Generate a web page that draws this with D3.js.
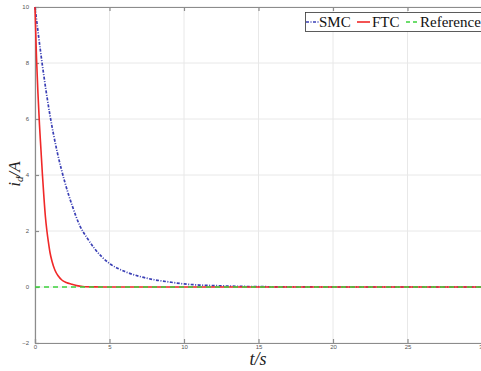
<!DOCTYPE html>
<html>
<head>
<meta charset="utf-8">
<script src="https://cdn.jsdelivr.net/npm/d3@7"></script>
<style>
  body { margin: 0; background: #fff; }
  svg { display: block; }
</style>
</head>
<body>
<svg id="chart"></svg>
<script>
// values
var smcT = [0, 0.5, 1, 1.5, 2, 2.5, 3, 3.5, 4, 4.5, 5, 6, 7, 8, 9, 10, 11, 12, 14, 17, 20, 30];
var smcI = [10, 7.9, 6.15, 4.8, 3.75, 2.9, 2.2, 1.75, 1.37, 1.07, 0.84, 0.56, 0.38, 0.26, 0.18, 0.11, 0.07, 0.05, 0.02, 0.005, 0, 0];
var ftcT = [0, 0.1, 0.2, 0.3, 0.4, 0.5, 0.6, 0.7, 0.8, 0.9, 1.0, 1.15, 1.34, 1.55, 1.8, 2.1, 2.45, 2.8, 3.2, 4, 5, 30];
var ftcI = [10, 8.2, 6.9, 5.8, 4.9, 4.0, 3.2, 2.5, 2.0, 1.6, 1.25, 0.9, 0.6, 0.4, 0.25, 0.16, 0.1, 0.05, 0.02, 0.005, 0, 0];
var refT = [0, 30];
var refI = [0, 0];
var xTicks = [0, 5, 10, 15, 20, 25, 30];
var yTicks = [-2, 0, 2, 4, 6, 8, 10];
var legendNames = ["SMC", "FTC", "Reference"];

var width = 481, height = 371;
var margin = {left: 35, top: 7, right: 0, bottom: 28};

var svg = d3.select("#chart").attr("width", width).attr("height", height);

var x = d3.scaleLinear().domain([0, 30]).range([margin.left, margin.left + 447]);
var y = d3.scaleLinear().domain([-2, 10]).range([343, margin.top]);

var axisColor = "#8c8c8c";

// grid
svg.append("g").selectAll("line")
  .data(xTicks)
  .enter().append("line")
  .attr("x1", function(d) { return x(d); })
  .attr("x2", function(d) { return x(d); })
  .attr("y1", y(10)).attr("y2", y(-2))
  .attr("stroke", "#e8e8e8");
svg.append("g").selectAll("line")
  .data(yTicks)
  .enter().append("line")
  .attr("x1", x(0)).attr("x2", x(30))
  .attr("y1", function(d) { return y(d); })
  .attr("y2", function(d) { return y(d); })
  .attr("stroke", "#e8e8e8");

// axes
var xAxis = d3.axisBottom(x).tickValues(xTicks).tickSize(-4).tickPadding(2);
var yAxis = d3.axisLeft(y).tickValues(yTicks).tickSize(-4).tickPadding(6);

var gx = svg.append("g").attr("transform", "translate(0," + y(-2) + ")").call(xAxis);
var gy = svg.append("g").attr("transform", "translate(" + x(0) + ",0)").call(yAxis);
var gTop = svg.append("g").attr("transform", "translate(0," + y(10) + ")")
  .call(d3.axisTop(x).tickValues(xTicks).tickSize(-4).tickFormat(""));

[gx, gy, gTop].forEach(function(g) {
  g.selectAll("path, line").attr("stroke", axisColor).attr("stroke-width", 1.2);
  g.selectAll("text").attr("fill", "#555").style("font-size", "6px")
    .style("font-family", "Liberation Sans, Arial, sans-serif");
});

// lines
var line = d3.line()
  .x(function(d) { return x(d[0]); })
  .y(function(d) { return y(d[1]); })
  .curve(d3.curveMonotoneX);

var smc = d3.zip(smcT, smcI);
var ftc = d3.zip(ftcT, ftcI);
var ref = d3.zip(refT, refI);

svg.append("path").datum(smc).attr("d", line)
  .attr("fill", "none").attr("stroke", "#3a3fb5").attr("stroke-width", 1.7)
  .attr("stroke-dasharray", "3,1.5,1,1.5");
svg.append("path").datum(ftc).attr("d", line)
  .attr("fill", "none").attr("stroke", "#f02828").attr("stroke-width", 1.6);
svg.append("path").datum(ref).attr("d", line)
  .attr("fill", "none").attr("stroke", "#3cd23c").attr("stroke-width", 1.6)
  .attr("stroke-dasharray", "5,4");

// legend
var lg = svg.append("g");
lg.append("rect").attr("x", 305.5).attr("y", 12.5).attr("width", 180).attr("height", 19)
  .attr("fill", "#fff").attr("stroke", "#333").attr("stroke-width", 0.8);

var legendColors = ["#3a3fb5", "#f02828", "#3cd23c"];
var legendDash = ["3,1.5,1,1.5", null, "4,3"];
var legendX = [306, 357, 406];
var textX = [319, 372, 420];
legendNames.forEach(function(name, i) {
  lg.append("line")
    .attr("x1", legendX[i]).attr("x2", legendX[i] + 13)
    .attr("y1", 22).attr("y2", 22)
    .attr("stroke", legendColors[i]).attr("stroke-width", 1.6)
    .attr("stroke-dasharray", legendDash[i]);
  lg.append("text")
    .attr("x", textX[i]).attr("y", 27)
    .style("font-family", "Liberation Serif, serif")
    .style("font-size", "15px")
    .attr("fill", "#111")
    .text(name);
});

// axis labels
svg.append("text")
  .attr("transform", "translate(20,174) rotate(-90)")
  .attr("text-anchor", "middle")
  .style("font-family", "Liberation Serif, DejaVu Serif, serif")
  .style("font-size", "17px")
  .style("font-style", "italic")
  .attr("fill", "#222")
  .html("i<tspan font-size='11px' dy='3'>d</tspan><tspan dy='-3'>/A</tspan>");

svg.append("text")
  .attr("x", 258).attr("y", 365)
  .attr("text-anchor", "middle")
  .style("font-family", "Liberation Serif, DejaVu Serif, serif")
  .style("font-size", "18px")
  .style("font-style", "italic")
  .attr("fill", "#222")
  .text("t/s");
</script>
</body>
</html>
